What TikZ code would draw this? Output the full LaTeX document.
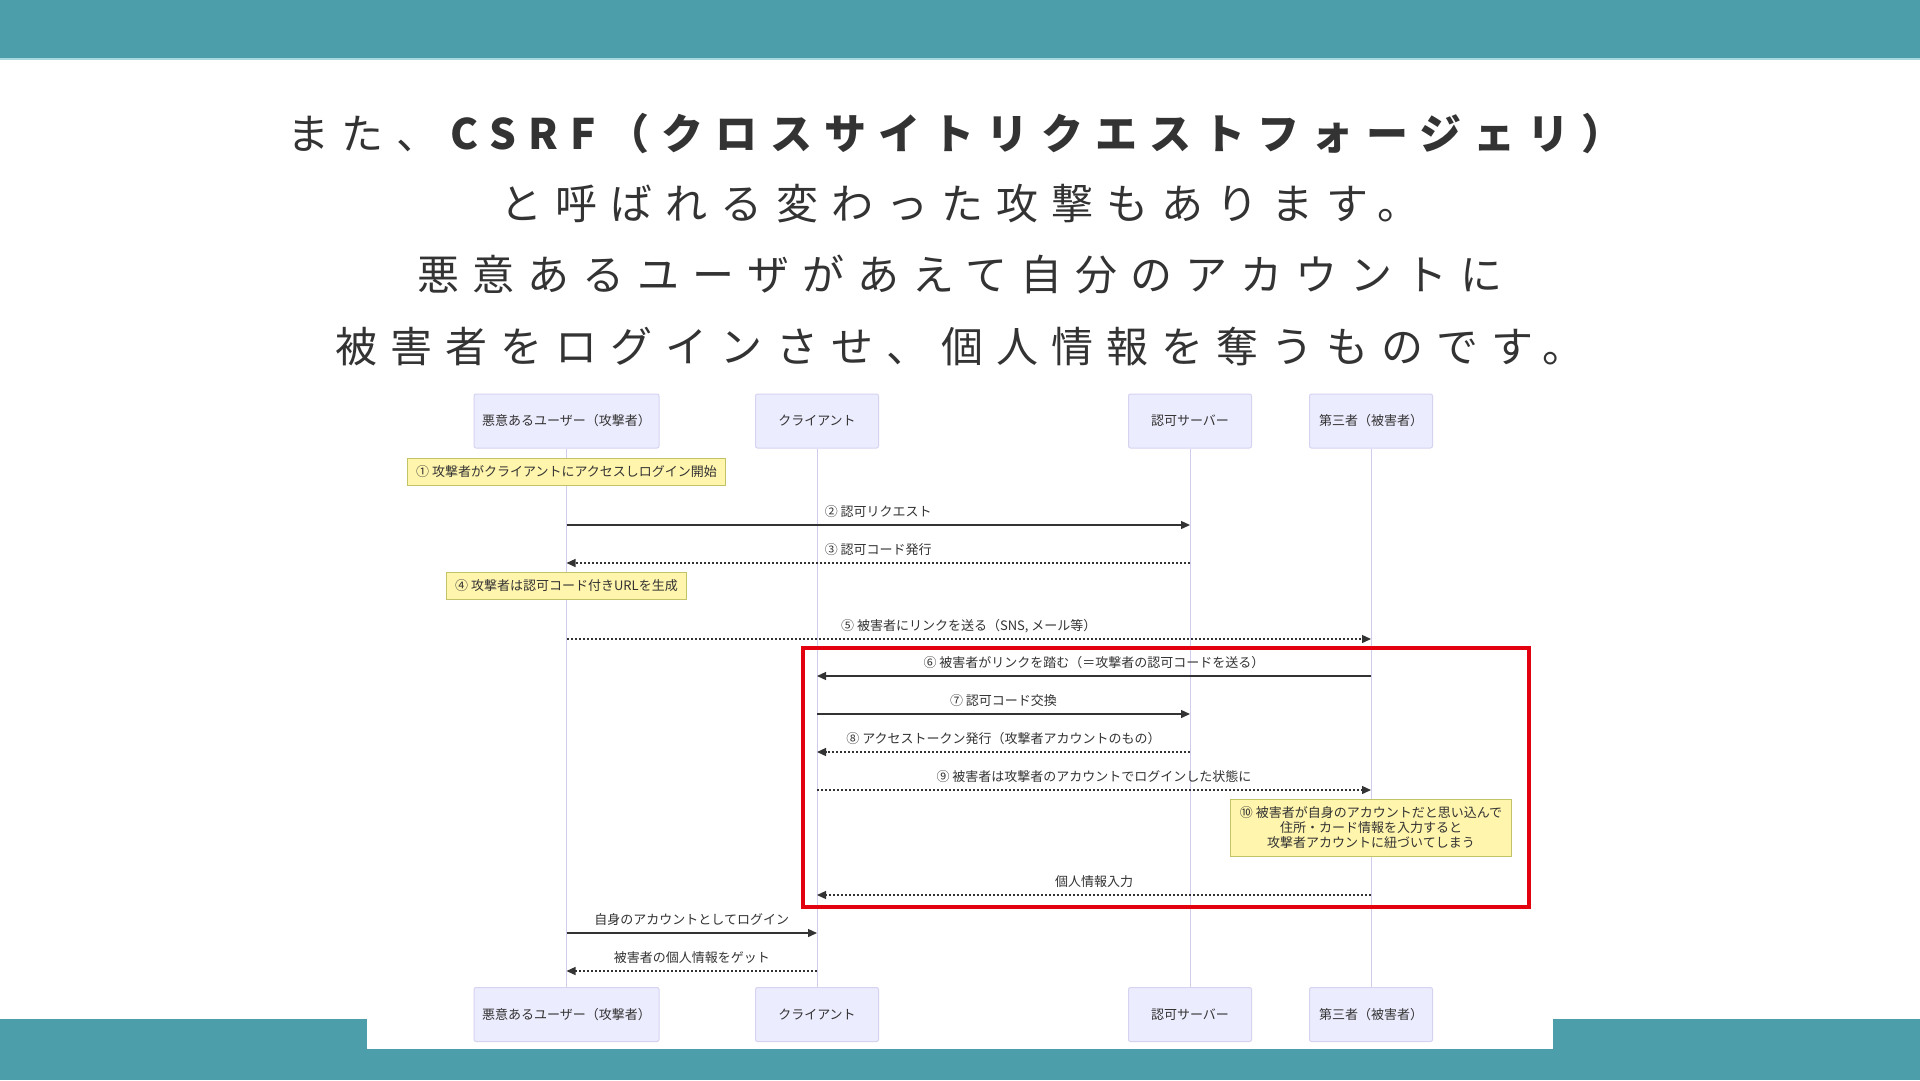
\documentclass[tikz,border=0pt]{standalone}
\usepackage{fontspec}
\setmainfont{Noto Sans CJK JP}
\newfontfamily\titlefont[LetterSpace=31]{Noto Sans CJK JP}
\newfontfamily\leadfont[LetterSpace=29]{Noto Sans CJK JP}
\usepackage{tikz}
\usetikzlibrary{positioning,arrows.meta}
\usepackage{xcolor}
\definecolor{bandteal}{HTML}{4C9EAB}
\definecolor{bandedge}{HTML}{A9D9E0}
\definecolor{actorfill}{HTML}{ECECFF}
\definecolor{actorline}{HTML}{D5D3F0}
\definecolor{lifegray}{HTML}{CFCDEB}
\definecolor{notefill}{HTML}{FFF5AD}
\definecolor{noteline}{HTML}{C2C266}
\definecolor{inkgray}{HTML}{333333}
\definecolor{hlred}{HTML}{E3000F}
\newcommand{\diagfont}{\fontsize{13}{15}\selectfont}

\begin{document}
\begin{tikzpicture}[x=1pt, y=-1pt,
  actor/.style={draw=actorline, fill=actorfill, rounded corners=2pt, line width=1pt,
    minimum width=123pt, minimum height=54pt, font=\diagfont, text=inkgray},
  life/.style={draw=lifegray, line width=1pt},
  note/.style={draw=noteline, fill=notefill, line width=1pt, font=\diagfont,
    text=inkgray, inner xsep=9pt, inner ysep=7pt, align=center},
  msg/.style={draw=inkgray, line width=1.3pt, -{Triangle[length=9pt, width=8pt]}},
  reply/.style={msg, dash pattern=on 2pt off 2pt},
  lbl/.style={font=\diagfont, text=inkgray, anchor=base, yshift=9pt, inner sep=0pt},
  title/.style={font=\titlefont\fontsize{42}{50}\selectfont, text=inkgray, inner sep=0pt},
  hlbox/.style={draw=hlred, line width=4pt, minimum width=726pt, minimum height=259pt}
]
\useasboundingbox (0,0) rectangle (1920,1080);
\fill[white] (0,0) rectangle (1920,1080);

% Bands
\fill[bandteal] (0,0) rectangle (1920,58);
\fill[bandedge] (0,58) rectangle (1920,60);
\fill[bandteal] (0,1019) rectangle (1920,1080);
\fill[white] (367,1000) rectangle (1553,1049);

% Title
\node[title, font=\leadfont\fontsize{42}{50}\selectfont] (t1) at (962,134) {また、\textbf{CSRF（クロスサイトリクエストフォージェリ）}};
\node[title] (t2) at (960,204) {と呼ばれる変わった攻撃もあります。};
\node[title] (t3) at (960,275) {悪意あるユーザがあえて自分のアカウントに};
\node[title] (t4) at (960,347) {被害者をログインさせ、個人情報を奪うものです。};

% Participants
\node[actor, minimum width=185pt] (atk) at (566.5,421) {悪意あるユーザー（攻撃者）};
\node[actor] (cli) at (817,421) {クライアント};
\node[actor] (srv) at (1190,421) {認可サーバー};
\node[actor] (vic) at (1371,421) {第三者（被害者）};
\node[actor, minimum width=185pt] (atkB) at (566.5,1014.5) {悪意あるユーザー（攻撃者）};
\node[actor] (cliB) at (817,1014.5) {クライアント};
\node[actor] (srvB) at (1190,1014.5) {認可サーバー};
\node[actor] (vicB) at (1371,1014.5) {第三者（被害者）};

% Lifelines
\draw[life] (atk) -- (atkB);
\draw[life] (cli) -- (cliB);
\draw[life] (srv) -- (srvB);
\draw[life] (vic) -- (vicB);

% Notes
\node[note] (n1) at (566.5,472) {① 攻撃者がクライアントにアクセスしログイン開始};
\node[note] (n4) at (566.5,586) {④ 攻撃者は認可コード付きURLを生成};
\node[note] (n10) at (1371,828) {⑩ 被害者が自身のアカウントだと思い込んで\\住所・カード情報を入力すると\\攻撃者アカウントに紐づいてしまう};

% Messages
\draw[msg] (atk |- 0,525) -- (srv |- 0,525) node[midway, lbl] {② 認可リクエスト};
\draw[reply] (srv |- 0,563) -- (atk |- 0,563) node[midway, lbl] {③ 認可コード発行};
\draw[reply] (atk |- 0,639) -- (vic |- 0,639) node[midway, lbl] {⑤ 被害者にリンクを送る（SNS, メール等）};
\draw[msg] (vic |- 0,676) -- (cli |- 0,676) node[midway, lbl] {⑥ 被害者がリンクを踏む（＝攻撃者の認可コードを送る）};
\draw[msg] (cli |- 0,714) -- (srv |- 0,714) node[midway, lbl] {⑦ 認可コード交換};
\draw[reply] (srv |- 0,752) -- (cli |- 0,752) node[midway, lbl] {⑧ アクセストークン発行（攻撃者アカウントのもの）};
\draw[reply] (cli |- 0,790) -- (vic |- 0,790) node[midway, lbl] {⑨ 被害者は攻撃者のアカウントでログインした状態に};
\draw[reply] (vic |- 0,895) -- (cli |- 0,895) node[midway, lbl] {個人情報入力};
\draw[msg] (atk |- 0,933) -- (cli |- 0,933) node[midway, lbl] {自身のアカウントとしてログイン};
\draw[reply] (cli |- 0,971) -- (atk |- 0,971) node[midway, lbl] {被害者の個人情報をゲット};

% Highlight
\node[hlbox] (hl) at (1166,777.5) {};
\end{tikzpicture}
\end{document}
